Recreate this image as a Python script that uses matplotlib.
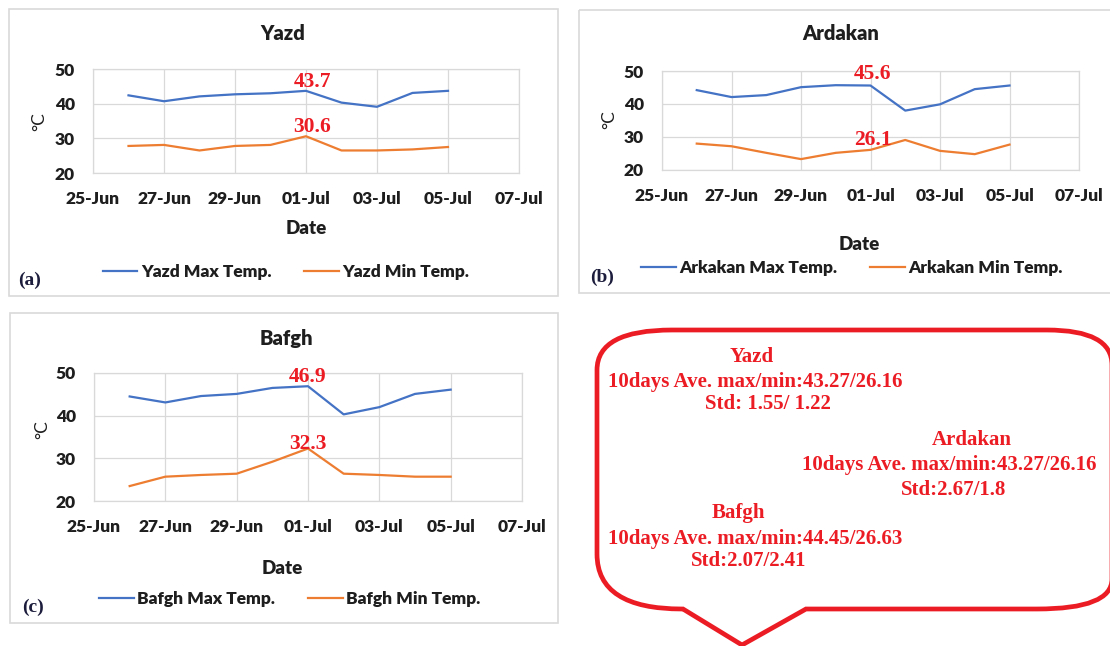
"""Daily max/min temperature at three stations, Excel-style panels."""
import matplotlib.pyplot as plt
import matplotlib.dates as mdates
from matplotlib.path import Path
from matplotlib.patches import PathPatch, Rectangle
import pandas as pd

W, H = 1110, 646

dates = pd.to_datetime(['2021-06-26', '2021-06-27', '2021-06-28', '2021-06-29', '2021-06-30',
                        '2021-07-01', '2021-07-02', '2021-07-03', '2021-07-04', '2021-07-05'])
tick_dates = pd.to_datetime(['2021-06-25', '2021-06-27', '2021-06-29', '2021-07-01',
                             '2021-07-03', '2021-07-05', '2021-07-07'])

yazd_max = [42.4, 40.7, 42.1, 42.7, 43.0, 43.7, 40.3, 39.1, 43.1, 43.7]
yazd_min = [27.8, 28.1, 26.5, 27.8, 28.1, 30.6, 26.5, 26.5, 26.8, 27.5]
ardakan_max = [44.2, 42.1, 42.7, 45.1, 45.7, 45.6, 38.0, 39.9, 44.5, 45.6]
ardakan_min = [28.0, 27.2, 25.2, 23.3, 25.2, 26.1, 29.1, 25.8, 24.8, 27.7]
bafgh_max = [44.5, 43.1, 44.6, 45.1, 46.5, 46.9, 40.3, 42.0, 45.1, 46.1]
bafgh_min = [23.5, 25.7, 26.1, 26.4, 29.2, 32.3, 26.4, 26.1, 25.7, 25.7]
peak_idx = 5  # 01-Jul, the labelled day

bubble_lines = [
    ("Yazd", 752, 357),
    ("10days Ave. max/min:43.27/26.16", 755, 382),
    ("Std: 1.55/ 1.22", 768, 404),
    ("Ardakan", 972, 440),
    ("10days Ave. max/min:43.27/26.16", 949, 465),
    ("Std:2.67/1.8", 954, 490),
    ("Bafgh", 738, 513),
    ("10days Ave. max/min:44.45/26.63", 755, 539),
    ("Std:2.07/2.41", 749, 561),
]

BLUE = '#4472C4'
ORANGE = '#ED7D31'
GRID = '#D9D9D9'
RED = '#EC1C24'
TXT = '#1e1e1e'

plt.rcParams['font.family'] = ['Lato', 'DejaVu Sans']
plt.rcParams['font.weight'] = 'heavy'


def px_box(x0, y0, x1, y1):
    return [x0 / W, 1 - y1 / H, (x1 - x0) / W, (y1 - y0) / H]


fig = plt.figure(figsize=(W / 100, H / 100), dpi=100)
bg = fig.add_axes([0, 0, 1, 1], zorder=0)
bg.set_xlim(0, W)
bg.set_ylim(H, 0)
bg.axis('off')

panels = [
    dict(title='Yazd', lname='Yazd', tag='(a)', vmax=yazd_max, vmin=yazd_min,
         border=(9, 9, 558, 296), plot=(93, 69, 519, 173), title_xy=(283, 34),
         ylab_xy=(39, 122), date_xy=(306, 228), leg_xy=(286, 272), tag_xy=(30, 280),
         off_max=(6, 9), off_min=(6, 9)),
    dict(title='Ardakan', lname='Arkakan', tag='(b)', vmax=ardakan_max, vmin=ardakan_min,
         border=(579, 10, 1125, 293), plot=(662, 71, 1079, 170), title_xy=(841, 34),
         ylab_xy=(609, 120), date_xy=(859, 245), leg_xy=(852, 268), tag_xy=(602, 277),
         off_max=(2, 12), off_min=(2, 10)),
    dict(title='Bafgh', lname='Bafgh', tag='(c)', vmax=bafgh_max, vmin=bafgh_min,
         border=(10, 313, 558, 623), plot=(94, 373, 522, 501), title_xy=(286, 339),
         ylab_xy=(42, 430), date_xy=(282, 568), leg_xy=(290, 599), tag_xy=(33, 607),
         off_max=(0, 9), off_min=(0, 5)),
]

for p in panels:
    x0, y0, x1, y1 = p['border']
    bg.add_patch(Rectangle((x0, y0), x1 - x0, y1 - y0, fill=False, ec=GRID, lw=1.2))
    bg.text(*p['title_xy'], p['title'], ha='center', va='center', fontsize=14.5, color=TXT)
    bg.text(*p['ylab_xy'], '°C', ha='center', va='center', fontsize=12.5,
            rotation=90, color=TXT, fontweight='normal')
    bg.text(*p['date_xy'], 'Date', ha='center', va='center', fontsize=13.5, color=TXT)
    bg.text(*p['tag_xy'], p['tag'], ha='center', va='center', fontsize=14,
            family='Liberation Serif', fontweight='bold', color='#1c1c3c')

    ax = fig.add_axes(px_box(*p['plot']), zorder=2)
    l1, = ax.plot(dates, p['vmax'], color=BLUE, lw=1.6, label=p['lname'] + ' Max Temp.')
    l2, = ax.plot(dates, p['vmin'], color=ORANGE, lw=1.6, label=p['lname'] + ' Min Temp.')
    ax.set_xlim(tick_dates[0], tick_dates[-1])
    ax.set_ylim(20, 50)
    ax.set_yticks([20, 30, 40, 50])
    ax.set_xticks(tick_dates)
    ax.xaxis.set_major_formatter(mdates.DateFormatter('%d-%b'))
    ax.grid(True, color=GRID, lw=0.9)
    ax.set_axisbelow(True)
    for s in ax.spines.values():
        s.set_color(GRID)
        s.set_linewidth(0.9)
    ax.tick_params(length=0, labelsize=12.5, labelcolor=TXT)
    ax.tick_params(axis='x', pad=13)
    ax.tick_params(axis='y', pad=13)

    for series, off in ((p['vmax'], p['off_max']), (p['vmin'], p['off_min'])):
        ax.annotate(f"{series[peak_idx]:.1f}", (dates[peak_idx], series[peak_idx]),
                    xytext=off, textcoords='offset pixels', ha='center', va='center',
                    fontsize=15.5, color=RED, family='Liberation Serif', fontweight='bold')

    cx, cy = p['leg_xy']
    ax.legend(handles=[l1, l2], loc='center', bbox_to_anchor=(cx / W, 1 - cy / H),
              bbox_transform=fig.transFigure, ncol=2, frameon=False, fontsize=12.5,
              handlelength=2.0, handletextpad=0.2, columnspacing=1.9,
              labelcolor=TXT)

# Speech bubble with summary statistics.
L, R, T, B = 597, 1112, 330, 609
verts = [(L + 75, T), (R - 65, T), (R, T), (R, T + 35), (R, B - 30), (R, B), (R - 75, B),
         (806, B), (742, 645), (683, B), (L + 85, B), (L, B), (L, B - 55),
         (L, T + 40), (L, T), (L + 75, T), (L + 75, T)]
codes = [Path.MOVETO, Path.LINETO, Path.CURVE3, Path.CURVE3, Path.LINETO, Path.CURVE3, Path.CURVE3,
         Path.LINETO, Path.LINETO, Path.LINETO, Path.LINETO, Path.CURVE3, Path.CURVE3,
         Path.LINETO, Path.CURVE3, Path.CURVE3, Path.CLOSEPOLY]
bg.add_patch(PathPatch(Path(verts, codes), fc='white', ec=RED, lw=3.4, clip_on=False))

for txt, x, y in bubble_lines:
    bg.text(x, y, txt, ha='center', va='center', fontsize=15, color=RED,
            family='Liberation Serif', fontweight='bold')

fig.savefig('out.png', dpi=100)
